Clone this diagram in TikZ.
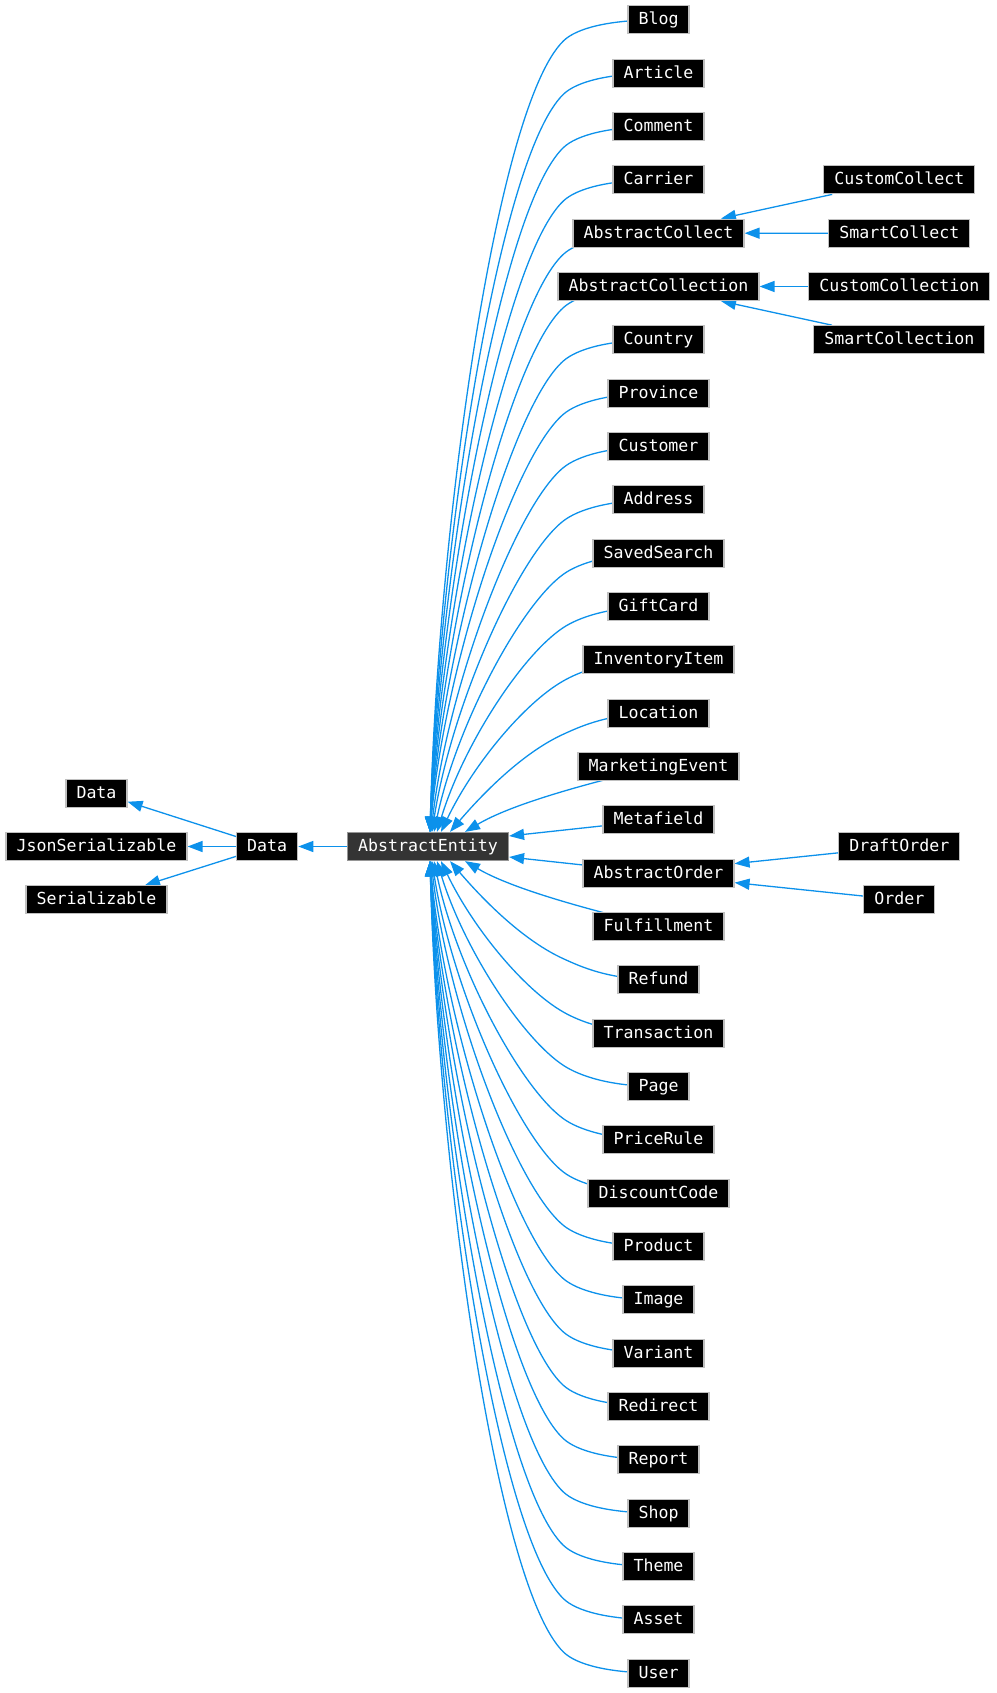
\documentclass[tikz,border=0pt]{standalone}
\usepackage{fontspec}
\newfontfamily\dvm{DejaVu Sans Mono}
\usetikzlibrary{arrows.meta,calc}
\definecolor{edgeblue}{RGB}{12,145,235}
\definecolor{boxborder}{RGB}{192,192,192}
\definecolor{aegray}{RGB}{52,52,52}
\definecolor{aeborder}{RGB}{150,150,150}
\pgfdeclarelayer{bg}
\pgfsetlayers{bg,main}
\begin{document}
\begin{tikzpicture}[x=1pt,y=-1pt,
  cls/.style={draw=boxborder, fill=black, text=white, line width=1.2pt, minimum height=28pt, inner xsep=10.5pt, inner ysep=0pt, text height=12pt, text depth=1.7pt, font=\dvm\fontsize{16.6}{20}\selectfont},
  cur/.style={cls, fill=aegray, draw=aeborder},
  edge/.style={draw=edgeblue, line width=1.3pt, -{Triangle[length=15pt,width=11pt]}}]
\useasboundingbox (0,0) rectangle (996,1693);

% nodes
\node[cur] (AE) at (428,846.5) {AbstractEntity};
\node[cls] (Data2) at (267.2,846.5) {Data};
\node[cls] (Data1) at (96.5,793.2) {Data};
\node[cls] (JsonSerializable) at (96.5,846.5) {JsonSerializable};
\node[cls] (Serializable) at (96.5,899.8) {Serializable};

\foreach \nm/\i in {Blog/0, Article/1, Comment/2, Carrier/3, AbstractCollect/4, AbstractCollection/5, Country/6, Province/7, Customer/8, Address/9, SavedSearch/10, GiftCard/11, InventoryItem/12, Location/13, MarketingEvent/14, Metafield/15, AbstractOrder/16, Fulfillment/17, Refund/18, Transaction/19, Page/20, PriceRule/21, DiscountCode/22, Product/23, Image/24, Variant/25, Redirect/26, Report/27, Shop/28, Theme/29, Asset/30, User/31}
  \node[cls] (\nm) at (658.5,{19.85+53.33*\i}) {\nm};

\node[cls] (CustomCollect) at (899.3,179.8) {CustomCollect};
\node[cls] (SmartCollect) at (899.3,233.2) {SmartCollect};
\node[cls] (CustomCollection) at (899.3,286.5) {CustomCollection};
\node[cls] (SmartCollection) at (899.3,339.8) {SmartCollection};
\node[cls] (DraftOrder) at (899.3,846.5) {DraftOrder};
\node[cls] (Order) at (899.3,899.8) {Order};

\begin{pgfonlayer}{bg}
% curved edges above AbstractEntity (drawn from the child's centre, hidden under its box)
\foreach \nm/\i/\tx in {Blog/0/430, Article/1/430, Comment/2/430, Carrier/3/430, AbstractCollect/4/430, AbstractCollection/5/430, Country/6/430, Province/7/430, Customer/8/431, Address/9/432, SavedSearch/10/434, GiftCard/11/437, InventoryItem/12/441, Location/13/450}{
  \pgfmathsetmacro{\yc}{19.85+53.33*\i}
  \pgfmathsetmacro{\ky}{\yc+21}
  \pgfmathsetmacro{\ddx}{563.5-\tx}
  \pgfmathsetmacro{\ddy}{832.5-\ky}
  \pgfmathsetmacro{\gam}{atan(\ddy/\ddx)}
  \pgfmathsetmacro{\bet}{0.5*\gam+4}
  \pgfmathsetmacro{\chv}{90-\gam}
  \pgfmathsetmacro{\ee}{min(\chv,\chv*\chv/60)}
  \pgfmathsetmacro{\LL}{\ddy/sin(\gam)}
  \pgfmathsetmacro{\sa}{30+0.08*\LL}
  \pgfmathsetmacro{\sb}{0.38*\LL}
  \pgfmathsetmacro{\ax}{563.5+18*cos(\bet)}
  \pgfmathsetmacro{\ay}{\ky-18*sin(\bet)}
  \pgfmathsetmacro{\bx}{563.5-\sa*cos(\bet)}
  \pgfmathsetmacro{\by}{\ky+\sa*sin(\bet)}
  \pgfmathsetmacro{\cx}{\tx+\sb*sin(\ee)}
  \pgfmathsetmacro{\cy}{832.5-\sb*cos(\ee)}
  \draw[edge] (\nm.center) .. controls (608.5,\yc) and (\ax,\ay) .. (563.5,\ky) .. controls (\bx,\by) and (\cx,\cy) .. ($(AE.north)+(\tx-428,0)$);
}
% curved edges below AbstractEntity
\foreach \nm/\i/\tx in {Refund/18/450, Transaction/19/441, Page/20/437, PriceRule/21/434, DiscountCode/22/432, Product/23/431, Image/24/430, Variant/25/430, Redirect/26/430, Report/27/430, Shop/28/430, Theme/29/430, Asset/30/430, User/31/430}{
  \pgfmathsetmacro{\yc}{19.85+53.33*\i}
  \pgfmathsetmacro{\ky}{\yc-21}
  \pgfmathsetmacro{\ddx}{563.5-\tx}
  \pgfmathsetmacro{\ddy}{\ky-860.5}
  \pgfmathsetmacro{\gam}{atan(\ddy/\ddx)}
  \pgfmathsetmacro{\bet}{0.5*\gam+4}
  \pgfmathsetmacro{\chv}{90-\gam}
  \pgfmathsetmacro{\ee}{min(\chv,\chv*\chv/60)}
  \pgfmathsetmacro{\LL}{\ddy/sin(\gam)}
  \pgfmathsetmacro{\sa}{30+0.08*\LL}
  \pgfmathsetmacro{\sb}{0.38*\LL}
  \pgfmathsetmacro{\ax}{563.5+18*cos(\bet)}
  \pgfmathsetmacro{\ay}{\ky+18*sin(\bet)}
  \pgfmathsetmacro{\bx}{563.5-\sa*cos(\bet)}
  \pgfmathsetmacro{\by}{\ky-\sa*sin(\bet)}
  \pgfmathsetmacro{\cx}{\tx+\sb*sin(\ee)}
  \pgfmathsetmacro{\cy}{860.5+\sb*cos(\ee)}
  \draw[edge] (\nm.center) .. controls (608.5,\yc) and (\ax,\ay) .. (563.5,\ky) .. controls (\bx,\by) and (\cx,\cy) .. ($(AE.south)+(\tx-428,0)$);
}
% the two nearest curved edges
\draw[edge] (MarketingEvent.center) .. controls (580,785) and (510,805) .. ($(AE.north)+(37,0)$);
\draw[edge] (Fulfillment.center) .. controls (580,907.7) and (510,887.7) .. ($(AE.south)+(37,0)$);
% straight edges
\draw[edge] (Metafield) -- ($(AE.east)+(0,-10.5)$);
\draw[edge] (AbstractOrder) -- ($(AE.east)+(0,10.5)$);
\draw[edge] (DraftOrder) -- ($(AbstractOrder.east)+(0,-9.5)$);
\draw[edge] (Order) -- ($(AbstractOrder.east)+(0,9.5)$);
\draw[edge] (CustomCollect) -- ($(AbstractCollect.north)+(62.5,0)$);
\draw[edge] (SmartCollect) -- (AbstractCollect);
\draw[edge] (CustomCollection) -- (AbstractCollection);
\draw[edge] (SmartCollection) -- ($(AbstractCollection.south)+(62.5,0)$);
\draw[edge] (AE) -- (Data2);
\draw[edge] (Data2) -- (JsonSerializable);
\draw[edge] (Data2) -- ($(Data1.east)+(0,8.5)$);
\draw[edge] (Data2) -- ($(Serializable.north)+(48.5,0)$);
\end{pgfonlayer}
\end{tikzpicture}
\end{document}
